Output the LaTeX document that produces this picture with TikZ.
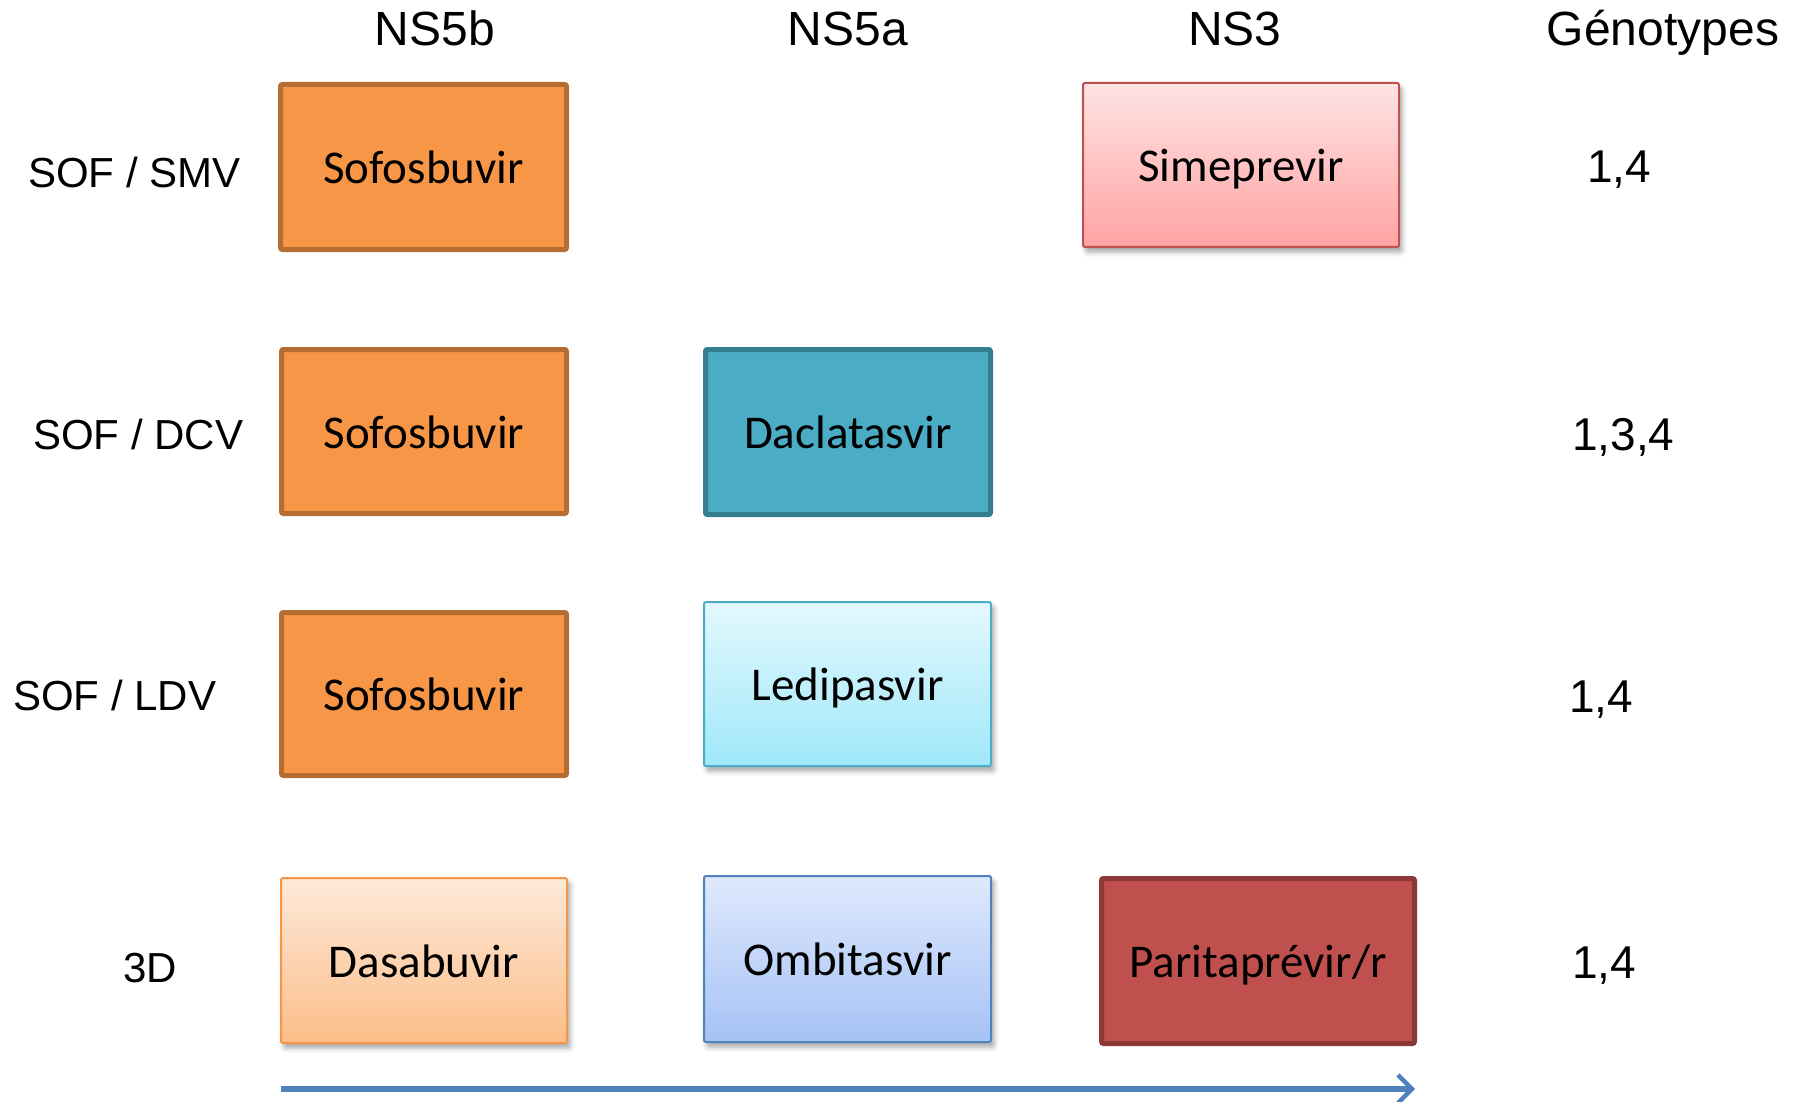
\documentclass[tikz,border=0pt]{standalone}
\usepackage{fontspec}
\setmainfont{Liberation Sans}
\newfontfamily\boxfont{Carlito}
\usetikzlibrary{arrows.meta,shadows.blur}
\definecolor{sofofill}{HTML}{F79646}
\definecolor{sofodraw}{HTML}{B66D31}
\definecolor{simetop}{HTML}{FFE3E3}
\definecolor{simebot}{HTML}{FFA3A3}
\definecolor{simedraw}{HTML}{C0504D}
\definecolor{dclfill}{HTML}{4BACC6}
\definecolor{dcldraw}{HTML}{357D91}
\definecolor{ldvtop}{HTML}{E3F8FD}
\definecolor{ldvbot}{HTML}{A0E8FA}
\definecolor{dsbtop}{HTML}{FDE9D9}
\definecolor{dsbbot}{HTML}{FCBE8A}
\definecolor{ombtop}{HTML}{DFE9FD}
\definecolor{ombbot}{HTML}{A5C2F5}
\definecolor{ombdraw}{HTML}{4F81BD}
\definecolor{parfill}{HTML}{C0504D}
\definecolor{pardraw}{HTML}{8C3836}
\definecolor{arrowblue}{HTML}{4F81BD}
\tikzset{
  drug/.style={rectangle, rounded corners=1pt, align=center, text=black,
    text height=16.8pt, text depth=0pt,
    font={\boxfont\fontsize{23.5pt}{28pt}\selectfont}},
  thickbox/.style={drug, line width=2.5pt},
  thinbox/.style={drug, line width=1pt, blur shadow={shadow xshift=1.5pt, shadow yshift=-2.5pt, shadow opacity=35, shadow blur radius=2.5pt}},
  head/.style={anchor=base, font={\fontsize{24pt}{28pt}\selectfont}},
  rowlab/.style={anchor=base west, font={\fontsize{21pt}{25pt}\selectfont}},
  geno/.style={anchor=base west, font={\fontsize{23pt}{27pt}\selectfont}},
}
\begin{document}
\begin{tikzpicture}[x=0.5pt,y=-0.5pt]
\useasboundingbox (0,0) rectangle (1801,1102);
% headings
\node[head] (hb) at (435,46) {NS5b};
\node[head] (ha) at (848,46) {NS5a};
\node[head] (h3) at (1235,46) {NS3};
\node[head] (hg) at (1663,46) {Génotypes};
% row labels
\node[rowlab] (r1) at (21,188) {SOF / SMV};
\node[rowlab] (r2) at (26,449) {SOF / DCV};
\node[rowlab] (r3) at (6,710) {SOF / LDV};
\node[rowlab] (r4) at (116,982) {3D};
% genotypes
\node[geno] (g1) at (1580,183) {1,4};
\node[geno] (g2) at (1565,450) {1,3,4};
\node[geno] (g3) at (1562,712) {1,4};
\node[geno] (g4) at (1565,978) {1,4};
% row 1
\node[thickbox, fill=sofofill, draw=sofodraw, minimum width=143pt, minimum height=82.5pt] (s1) at (423.5,167) {Sofosbuvir};
\node[thinbox, top color=simetop, bottom color=simebot, draw=simedraw, minimum width=158pt, minimum height=82pt] (sim) at (1241,165) {Simeprevir};
% row 2
\node[thickbox, fill=sofofill, draw=sofodraw, minimum width=142.5pt, minimum height=82pt] (s2) at (424,431.5) {Sofosbuvir};
\node[thickbox, fill=dclfill, draw=dcldraw, minimum width=142.5pt, minimum height=82.5pt] (dcv) at (848,432) {Daclatasvir};
% row 3
\node[thickbox, fill=sofofill, draw=sofodraw, minimum width=142.5pt, minimum height=81.5pt] (s3) at (424,694) {Sofosbuvir};
\node[thinbox, top color=ldvtop, bottom color=ldvbot, draw=dclfill, minimum width=143.5pt, minimum height=82pt] (ldv) at (847.5,684) {Ledipasvir};
% row 4
\node[thinbox, top color=dsbtop, bottom color=dsbbot, draw=sofofill, minimum width=143pt, minimum height=82.5pt] (dsb) at (424,960.5) {Dasabuvir};
\node[thinbox, top color=ombtop, bottom color=ombbot, draw=ombdraw, minimum width=143.5pt, minimum height=83pt] (omb) at (847.5,959) {Ombitasvir};
\node[thickbox, fill=parfill, draw=pardraw, minimum width=156.5pt, minimum height=82.5pt] (par) at (1258,961) {Paritaprévir/r};
% arrow
\coordinate (a0) at (281,1089);
\coordinate (a1) at (1415,1089);
\draw[arrowblue, line width=2.8pt, -{Straight Barb[length=7pt,width=14pt,line width=2.2pt]}] (a0) -- (a1);
\end{tikzpicture}
\end{document}
